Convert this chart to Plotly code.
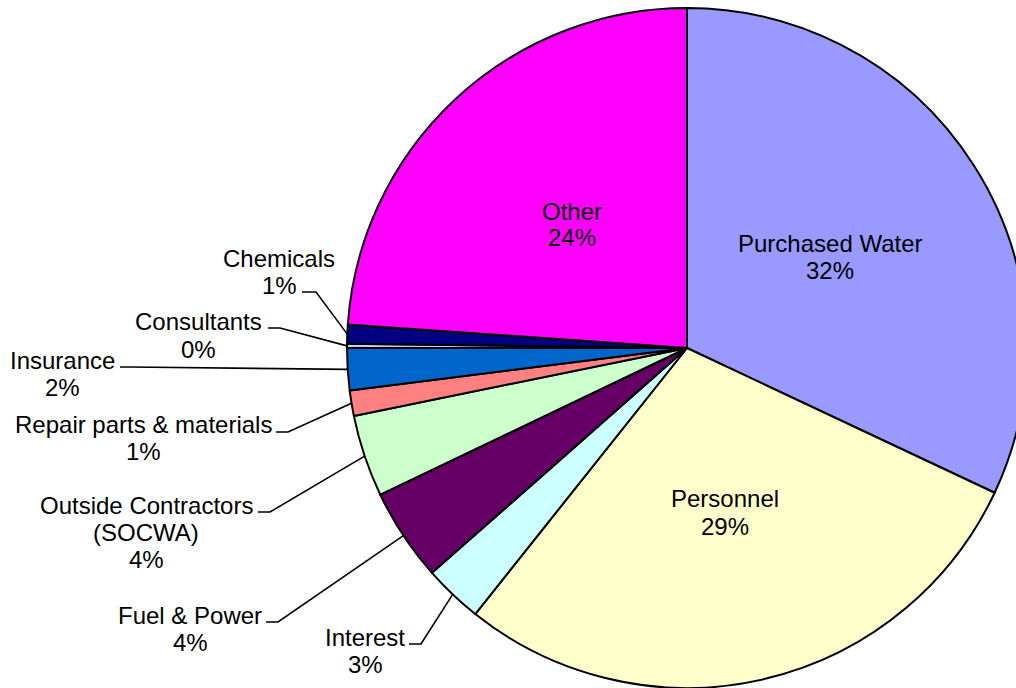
import math
import plotly.graph_objects as go

# slice order is clockwise from 12 o'clock
categories = ["Purchased Water", "Personnel", "Interest", "Fuel & Power",
              "Outside Contractors (SOCWA)", "Repair parts & materials",
              "Insurance", "Consultants", "Chemicals", "Other"]
values = [32.0, 28.7, 2.8, 4.4, 3.9, 1.2, 2.0, 0.2, 0.9, 23.9]
colors = ["#9999FF", "#FFFFCC", "#CCFFFF", "#660066", "#CCFFCC",
          "#FF8080", "#0066CC", "#CCCCFF", "#000080", "#FF00FF"]
label_lines = {
    "Outside Contractors (SOCWA)": ["Outside Contractors", "(SOCWA)"],
}

# chart is a bit wider than the window so the right edge of the pie
# gets clipped like in the original (body margin removed, overflow hidden)
OFF = 0
W, H = 1030, 688
CX, CY, R = 687, 348, 340
FONT = dict(family="Liberation Sans, Arial, sans-serif", size=24, color="black")

# label layout (screen pixels): text centre x, first line y, leader stub (x start, x end, y)
label_layout = {
    "Purchased Water": (830, 244, None),
    "Personnel": (725, 499, None),
    "Other": (572, 211, None),
    "Interest": (365, 637, (409, 421, 644)),
    "Fuel & Power": (190, 615, (266, 278, 622)),
    "Outside Contractors (SOCWA)": (146, 505, (258, 270, 512)),
    "Repair parts & materials": (143, 424, (276, 288, 432)),
    "Insurance": (62, 360, (120, 130, 367)),
    "Consultants": (198, 322, (268, 280, 328)),
    "Chemicals": (279, 258, (302, 316, 292)),
}


def px(x):
    return (x - OFF) / W


def py(y):
    return 1 - (y - OFF) / H


fig = go.Figure(go.Pie(
    labels=categories, values=values, sort=False,
    direction="clockwise", rotation=0,
    marker=dict(colors=colors, line=dict(color="black", width=2)),
    textinfo="none", hoverinfo="label+percent", showlegend=False,
    domain=dict(x=[px(CX - R), px(CX + R)], y=[py(CY + R), py(CY - R)]),
))

total = sum(values)
cum = 0
for name, v in zip(categories, values):
    mid = 2 * math.pi * (cum + v / 2) / total
    cum += v
    tx, ty, stub = label_layout[name]
    lines = label_lines.get(name, [name]) + [f"{round(v / total * 100)}%"]
    for i, line in enumerate(lines):
        fig.add_annotation(x=px(tx), y=py(ty + 27 * i), xref="paper", yref="paper",
                           text=line, showarrow=False, font=FONT,
                           xanchor="center", yanchor="middle")
    if stub:
        ex = CX + R * math.sin(mid)
        ey = CY - R * math.cos(mid)
        x0, x1, sy = stub
        fig.add_shape(type="path", xref="paper", yref="paper",
                      path=f"M {px(x0)},{py(sy)} L {px(x1)},{py(sy)} L {px(ex)},{py(ey)}",
                      line=dict(color="black", width=1.6))

fig.update_layout(
    width=W, height=H,
    margin=dict(l=0, r=0, t=0, b=0),
    paper_bgcolor="white", plot_bgcolor="white",
)

fig.write_html("out.html", config={"displayModeBar": False},
               post_script="document.body.style.margin='0';document.body.style.overflow='hidden';")
